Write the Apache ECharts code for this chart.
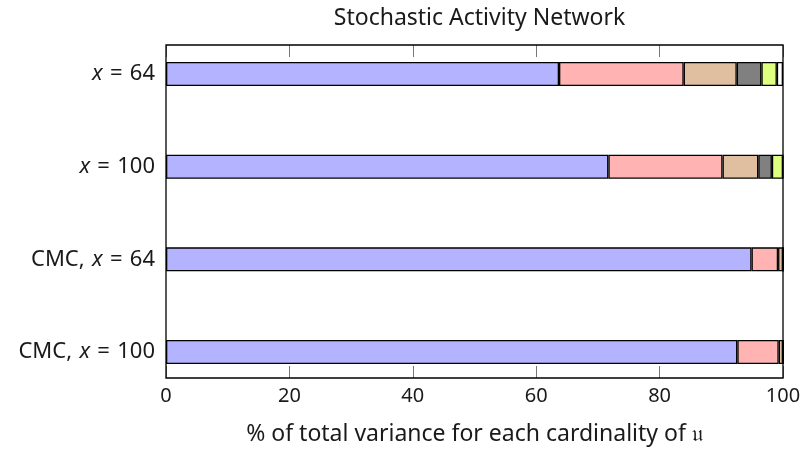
<!DOCTYPE html>
<html><head><meta charset="utf-8">
<script src="https://cdn.jsdelivr.net/npm/echarts@6/dist/echarts.min.js"></script>
<style>html,body{margin:0;padding:0;background:#fff}#c{width:805px;height:451px}</style>
</head><body><div id="c"></div>
<script>
const categories = ['x = 64', 'x = 100', 'CMC, x = 64', 'CMC, x = 100'];
const seriesNames = ['|u| = 1', '|u| = 2', '|u| = 3', '|u| = 4', '|u| = 5', '|u| = 6'];
const s1 = [63.7, 71.7, 94.9, 92.6];
const s2 = [20.2, 18.5, 4.3, 6.7];
const s3 = [8.6, 5.8, 0.8, 0.7];
const s4 = [4.0, 2.2, 0, 0];
const s5 = [2.5, 1.8, 0, 0];
const s6 = [1.0, 0, 0, 0];
const xTicks = [0, 20, 40, 60, 80, 100];
const colors = ['#b3b3ff', '#ffb3b3', '#dfbf9f', '#808080', '#dfff80', '#ffffff'];
const FONT = 'Noto Sans';

const chart = echarts.init(document.getElementById('c'), null, {renderer: 'canvas'});
const values = [s1, s2, s3, s4, s5, s6];
const option = {
  animation: false,
  backgroundColor: '#fff',
  title: {
    text: 'Stochastic Activity Network',
    left: 474.5, top: 2, textAlign: 'center',
    textStyle: {fontFamily: FONT, fontSize: 23, fontWeight: 'normal', color: '#1a1a1a'}
  },
  grid: [
    {left: 166, right: 22, top: 45, bottom: 70, show: true, borderColor: '#000', borderWidth: 1.3, backgroundColor: 'transparent', z: 5},
    {left: 166, right: 22, top: 27.7, bottom: 52.7}
  ],
  xAxis: [
    {gridIndex: 0, type: 'value', min: 0, max: 100, interval: 20, position: 'bottom',
     axisLine: {show: false}, splitLine: {show: false},
     axisTick: {show: true, inside: true, length: 12, lineStyle: {color: '#777', width: 1}},
     axisLabel: {fontFamily: FONT, fontSize: 20, color: '#1a1a1a', margin: 8,
       formatter: v => xTicks.includes(v) ? String(v) : ''},
     name: '% of total variance for each cardinality of 𝔲', nameLocation: 'middle', nameGap: 45,
     nameTextStyle: {fontFamily: FONT, fontSize: 23, color: '#1a1a1a'}},
    {gridIndex: 0, type: 'value', min: 0, max: 100, interval: 20, position: 'top',
     axisLine: {show: false}, splitLine: {show: false}, axisLabel: {show: false},
     axisTick: {show: true, inside: true, length: 12, lineStyle: {color: '#777', width: 1}}},
    {gridIndex: 1, type: 'value', min: 0, max: 100, show: false}
  ],
  yAxis: [
    {gridIndex: 0, type: 'value', min: 0, max: 1, show: false},
    {gridIndex: 1, type: 'category', data: categories, inverse: true,
     axisLine: {show: false}, axisTick: {show: false}, splitLine: {show: false},
     axisLabel: {margin: 11, fontFamily: FONT, fontSize: 22, color: '#1a1a1a',
       formatter: v => v.replace(', ', ',\u2004').replace('x = ', '{i|x}\u2004=\u2004'),
       rich: {i: {fontFamily: FONT, fontStyle: 'italic', fontSize: 22, color: '#1a1a1a'}}}}
  ],
  series: values.map((d, i) => ({
    name: seriesNames[i], type: 'bar', stack: 'total', xAxisIndex: 2, yAxisIndex: 1,
    barWidth: 24, data: d,
    itemStyle: {color: colors[i], borderColor: '#000', borderWidth: 1.3}
  }))
};
chart.setOption(option);
</script></body></html>
